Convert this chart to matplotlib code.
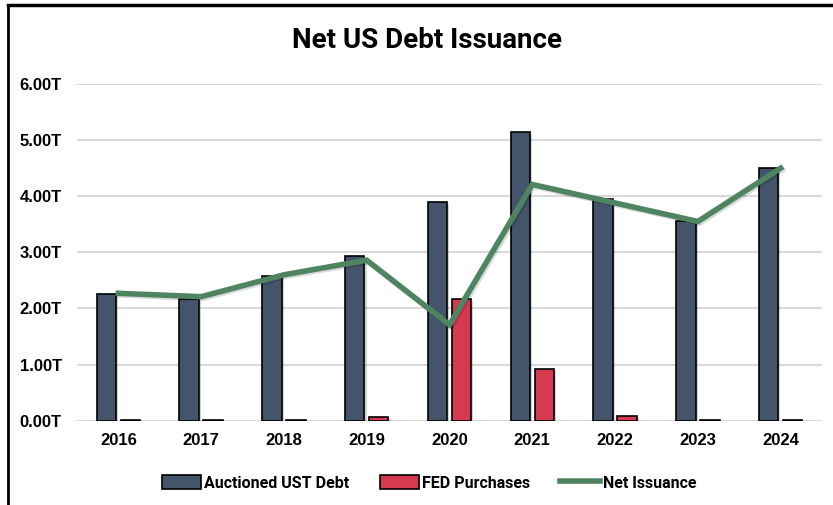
import matplotlib
matplotlib.use("Agg")
import matplotlib.pyplot as plt
import matplotlib.patheffects as pe
from matplotlib.lines import Line2D
from matplotlib.patches import Patch
import numpy as np

years = ["2016", "2017", "2018", "2019", "2020", "2021", "2022", "2023", "2024"]
auctioned = [2.26, 2.17, 2.58, 2.93, 3.89, 5.15, 3.95, 3.56, 4.51]
fed = [0.02, 0.02, 0.02, 0.07, 2.17, 0.92, 0.08, 0.02, 0.02]
net = [2.27, 2.21, 2.60, 2.86, 1.71, 4.21, 3.88, 3.55, 4.50]
yticks = [0, 1, 2, 3, 4, 5, 6]
ytick_labels = ["0.00T", "1.00T", "2.00T", "3.00T", "4.00T", "5.00T", "6.00T"]

C_AUC = "#44546A"
C_FED = "#D53A50"
C_NET = "#4F8460"
NARROW = ["Roboto", "DejaVu Sans"]
REG = ["Liberation Sans", "DejaVu Sans"]

W, H = 833, 505
fig = plt.figure(figsize=(W / 100, H / 100), dpi=100)
ax = fig.add_axes([77 / W, 1 - 420.7 / H, (822 - 77) / W, (420.7 - 84) / H])

x = np.arange(len(years))
bw = 0.235
shadow = [pe.SimplePatchShadow(offset=(1.5, -1.5), alpha=0.2), pe.Normal()]
b1 = ax.bar(x - 0.145, auctioned, width=bw, color=C_AUC, edgecolor="black",
            linewidth=1.2, zorder=3)
b2 = ax.bar(x + 0.145, fed, width=bw, color=C_FED, edgecolor="black",
            linewidth=1.2, zorder=3)
for b in list(b1) + list(b2):
    b.set_path_effects(shadow)
ax.plot(x, net, color=C_NET, linewidth=4, zorder=4, solid_joinstyle="miter",
        path_effects=[pe.SimpleLineShadow(offset=(1.2, -1.2), alpha=0.15), pe.Normal()])

ax.set_xlim(-0.5, len(years) - 0.5)
ax.set_ylim(0, 6)
ax.set_yticks(yticks)
ax.set_yticklabels(ytick_labels)
ax.set_xticks(x)
ax.set_xticklabels(years)
ax.grid(axis="y", color="#D9D9D9", linewidth=1.5, zorder=0)
ax.set_axisbelow(True)
for s in ax.spines.values():
    s.set_visible(False)
ax.tick_params(axis="both", length=0)
ax.tick_params(axis="y", pad=11)
ax.tick_params(axis="x", pad=9)
for lab in ax.get_yticklabels() + ax.get_xticklabels():
    lab.set_fontfamily(REG)
    lab.set_fontweight("bold")
    lab.set_fontsize(12)

fig.text(427 / W, 1 - 41 / H, "Net US Debt Issuance", ha="center", va="center",
         fontsize=20, fontweight="bold", family=NARROW)

handles = [Patch(facecolor=C_AUC, edgecolor="black", linewidth=1.2),
           Patch(facecolor=C_FED, edgecolor="black", linewidth=1.2),
           Line2D([0], [0], color=C_NET, linewidth=4)]
labels = ["Auctioned UST Debt", "FED Purchases", "Net Issuance"]
leg = fig.legend(handles, labels, loc="center", bbox_to_anchor=(429 / W, 1 - 483 / H),
                 ncol=3, frameon=False, handlelength=2.45, handleheight=0.9,
                 handletextpad=0.2, columnspacing=1.9,
                 prop={"family": NARROW, "weight": "bold", "size": 11.5})

fig.add_artist(Line2D([8 / W, 8 / W], [0, 1 - 5 / H], color="black", linewidth=2,
                      transform=fig.transFigure))
fig.add_artist(Line2D([8 / W, 1], [1 - 5 / H, 1 - 5 / H], color="black", linewidth=2.5,
                      transform=fig.transFigure))

fig.savefig("out.png", dpi=100, facecolor="white")
